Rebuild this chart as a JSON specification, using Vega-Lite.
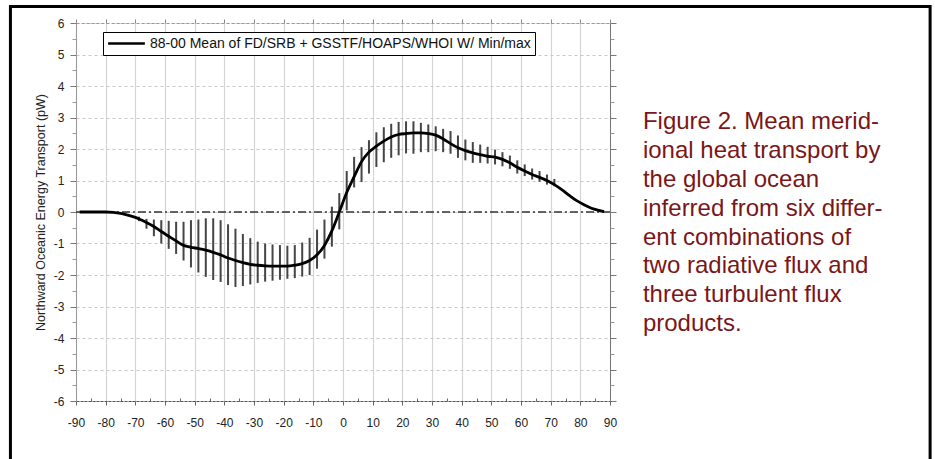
{
  "$schema": "https://vega.github.io/schema/vega-lite/v6.json",
  "width": 534,
  "height": 378,
  "autosize": {"type": "none"},
  "padding": {"left": 76, "top": 23, "right": 325, "bottom": 58},
  "background": "white",
  "config": {
    "view": {"stroke": null},
    "font": "Liberation Sans",
    "axis": {"labelFont": "Liberation Sans", "titleFont": "Liberation Sans"}
  },
  "datasets": {
    "bars": [
      {"lat": -68.75, "lo": -0.29, "hi": -0.15},
      {"lat": -66.25, "lo": -0.53, "hi": -0.22},
      {"lat": -63.75, "lo": -0.77, "hi": -0.24},
      {"lat": -61.25, "lo": -1.0, "hi": -0.26},
      {"lat": -58.75, "lo": -1.17, "hi": -0.28},
      {"lat": -56.25, "lo": -1.33, "hi": -0.31},
      {"lat": -53.75, "lo": -1.54, "hi": -0.31},
      {"lat": -51.25, "lo": -1.76, "hi": -0.26},
      {"lat": -48.75, "lo": -1.92, "hi": -0.24},
      {"lat": -46.25, "lo": -2.06, "hi": -0.2},
      {"lat": -43.75, "lo": -2.16, "hi": -0.2},
      {"lat": -41.25, "lo": -2.22, "hi": -0.26},
      {"lat": -38.75, "lo": -2.32, "hi": -0.39},
      {"lat": -36.25, "lo": -2.38, "hi": -0.53},
      {"lat": -33.75, "lo": -2.35, "hi": -0.7},
      {"lat": -31.25, "lo": -2.3, "hi": -0.83},
      {"lat": -28.75, "lo": -2.25, "hi": -0.94},
      {"lat": -26.25, "lo": -2.21, "hi": -1.0},
      {"lat": -23.75, "lo": -2.18, "hi": -1.03},
      {"lat": -21.25, "lo": -2.15, "hi": -1.05},
      {"lat": -18.75, "lo": -2.12, "hi": -1.07},
      {"lat": -16.25, "lo": -2.1, "hi": -1.05},
      {"lat": -13.75, "lo": -2.05, "hi": -0.97},
      {"lat": -11.25, "lo": -2.0, "hi": -0.82},
      {"lat": -8.75, "lo": -1.8, "hi": -0.56},
      {"lat": -6.25, "lo": -1.48, "hi": -0.24},
      {"lat": -3.75, "lo": -1.1, "hi": 0.17},
      {"lat": -1.25, "lo": -0.55, "hi": 0.6},
      {"lat": 1.25, "lo": 0.05, "hi": 1.3},
      {"lat": 3.75, "lo": 0.78, "hi": 1.75},
      {"lat": 6.25, "lo": 0.95, "hi": 2.06},
      {"lat": 8.75, "lo": 1.22, "hi": 2.28},
      {"lat": 11.25, "lo": 1.43, "hi": 2.53},
      {"lat": 13.75, "lo": 1.58, "hi": 2.69},
      {"lat": 16.25, "lo": 1.72, "hi": 2.8},
      {"lat": 18.75, "lo": 1.8, "hi": 2.86},
      {"lat": 21.25, "lo": 1.86, "hi": 2.88},
      {"lat": 23.75, "lo": 1.85, "hi": 2.88},
      {"lat": 26.25, "lo": 1.9, "hi": 2.83},
      {"lat": 28.75, "lo": 1.9, "hi": 2.78},
      {"lat": 31.25, "lo": 1.93, "hi": 2.72},
      {"lat": 33.75, "lo": 1.9, "hi": 2.64},
      {"lat": 36.25, "lo": 1.85, "hi": 2.57},
      {"lat": 38.75, "lo": 1.72, "hi": 2.43},
      {"lat": 41.25, "lo": 1.64, "hi": 2.3},
      {"lat": 43.75, "lo": 1.56, "hi": 2.22},
      {"lat": 46.25, "lo": 1.56, "hi": 2.14},
      {"lat": 48.75, "lo": 1.54, "hi": 2.07},
      {"lat": 51.25, "lo": 1.51, "hi": 1.98},
      {"lat": 53.75, "lo": 1.45, "hi": 1.9},
      {"lat": 56.25, "lo": 1.37, "hi": 1.79},
      {"lat": 58.75, "lo": 1.22, "hi": 1.64},
      {"lat": 61.25, "lo": 1.14, "hi": 1.51},
      {"lat": 63.75, "lo": 1.03, "hi": 1.38},
      {"lat": 66.25, "lo": 0.96, "hi": 1.3},
      {"lat": 68.75, "lo": 0.87, "hi": 1.19},
      {"lat": 71.25, "lo": 0.82, "hi": 1.05}
    ],
    "curve": [
      {"lat": -88.75, "mean": 0}, {"lat": -85, "mean": 0}, {"lat": -80, "mean": 0},
      {"lat": -77.5, "mean": -0.01}, {"lat": -75, "mean": -0.04}, {"lat": -72.5, "mean": -0.1},
      {"lat": -70, "mean": -0.17}, {"lat": -68.75, "mean": -0.22}, {"lat": -66.25, "mean": -0.33},
      {"lat": -63.75, "mean": -0.46}, {"lat": -61.25, "mean": -0.62}, {"lat": -58.75, "mean": -0.77},
      {"lat": -56.25, "mean": -0.92}, {"lat": -53.75, "mean": -1.06}, {"lat": -51.25, "mean": -1.12},
      {"lat": -48.75, "mean": -1.16}, {"lat": -46.25, "mean": -1.21}, {"lat": -43.75, "mean": -1.28},
      {"lat": -41.25, "mean": -1.36}, {"lat": -38.75, "mean": -1.46}, {"lat": -36.25, "mean": -1.54},
      {"lat": -33.75, "mean": -1.61}, {"lat": -31.25, "mean": -1.66}, {"lat": -28.75, "mean": -1.69},
      {"lat": -26.25, "mean": -1.71}, {"lat": -23.75, "mean": -1.72}, {"lat": -21.25, "mean": -1.72},
      {"lat": -18.75, "mean": -1.72}, {"lat": -16.25, "mean": -1.69}, {"lat": -13.75, "mean": -1.64},
      {"lat": -11.25, "mean": -1.54}, {"lat": -8.75, "mean": -1.36}, {"lat": -6.25, "mean": -1.06},
      {"lat": -3.75, "mean": -0.6}, {"lat": -1.25, "mean": 0.0}, {"lat": 1.25, "mean": 0.62},
      {"lat": 3.75, "mean": 1.12}, {"lat": 6.25, "mean": 1.6}, {"lat": 8.75, "mean": 1.9},
      {"lat": 11.25, "mean": 2.09}, {"lat": 13.75, "mean": 2.25}, {"lat": 16.25, "mean": 2.38},
      {"lat": 18.75, "mean": 2.46}, {"lat": 21.25, "mean": 2.49}, {"lat": 23.75, "mean": 2.51},
      {"lat": 26.25, "mean": 2.51}, {"lat": 28.75, "mean": 2.49}, {"lat": 31.25, "mean": 2.44},
      {"lat": 33.75, "mean": 2.32}, {"lat": 36.25, "mean": 2.17}, {"lat": 38.75, "mean": 2.04},
      {"lat": 41.25, "mean": 1.95}, {"lat": 43.75, "mean": 1.88}, {"lat": 46.25, "mean": 1.82},
      {"lat": 48.75, "mean": 1.77}, {"lat": 51.25, "mean": 1.74}, {"lat": 53.75, "mean": 1.67},
      {"lat": 56.25, "mean": 1.56}, {"lat": 58.75, "mean": 1.42}, {"lat": 61.25, "mean": 1.3},
      {"lat": 63.75, "mean": 1.19}, {"lat": 66.25, "mean": 1.1}, {"lat": 68.75, "mean": 1.0},
      {"lat": 71.25, "mean": 0.87}, {"lat": 73.75, "mean": 0.71}, {"lat": 76.25, "mean": 0.53},
      {"lat": 78.75, "mean": 0.36}, {"lat": 81.25, "mean": 0.23}, {"lat": 83.75, "mean": 0.12},
      {"lat": 86.25, "mean": 0.05}, {"lat": 88, "mean": 0.01}
    ]
  },
  "resolve": {"axis": {"x": "independent", "y": "independent"}},
  "layer": [
    {
      "data": {"name": "bars"},
      "mark": {"type": "rule", "color": "#454545", "strokeWidth": 2},
      "encoding": {
        "x": {
          "field": "lat", "type": "quantitative",
          "scale": {"domain": [-90, 90], "nice": false, "zero": false},
          "axis": {
            "orient": "bottom", "title": null,
            "values": [-90, -80, -70, -60, -50, -40, -30, -20, -10, 0, 10, 20, 30, 40, 50, 60, 70, 80, 90],
            "labelExpr": "'' + datum.value", "labelOverlap": false, "labelFlush": false,
            "labelFontSize": 12, "labelColor": "#222", "labelPadding": 12,
            "tickSize": 4, "tickColor": "#666",
            "grid": true, "gridColor": "#d4d4d4", "gridWidth": 1.2,
            "domainColor": "#555", "domainDash": [3, 1]
          }
        },
        "y": {
          "field": "lo", "type": "quantitative",
          "scale": {"domain": [-6, 6], "nice": false},
          "axis": {
            "orient": "left",
            "title": "Northward Oceanic Energy Transport (pW)",
            "titleFontSize": 12.5, "titleFontWeight": "normal", "titleColor": "#222", "titlePadding": 6,
            "values": [-6, -5, -4, -3, -2, -1, 0, 1, 2, 3, 4, 5, 6],
            "labelExpr": "'' + datum.value", "labelOverlap": false, "labelFlush": false,
            "labelFontSize": 12, "labelColor": "#222", "labelPadding": 6,
            "tickSize": 6, "tickColor": "#777",
            "grid": true, "gridColor": "#c8c8c8", "gridDash": [3, 3], "gridWidth": 1,
            "domainColor": "#999"
          }
        },
        "y2": {"field": "hi"}
      }
    },
    {
      "data": {"values": [{}]},
      "mark": {"type": "rule", "color": "#333", "strokeWidth": 1.3, "strokeDash": [8, 3, 2, 3]},
      "encoding": {
        "y": {"datum": 0, "type": "quantitative", "scale": {"domain": [-6, 6], "nice": false}, "axis": null}
      }
    },
    {
      "data": {"name": "curve"},
      "mark": {"type": "line", "strokeWidth": 2.8, "interpolate": "monotone"},
      "encoding": {
        "x": {
          "field": "lat", "type": "quantitative",
          "scale": {"domain": [-90, 90], "nice": false, "zero": false},
          "axis": {
            "orient": "top", "title": null, "labels": false,
            "values": [-90, -80, -70, -60, -50, -40, -30, -20, -10, 0, 10, 20, 30, 40, 50, 60, 70, 80, 90],
            "tickSize": 4, "tickColor": "#888", "grid": false,
            "domainColor": "#999", "domainDash": [3, 2]
          }
        },
        "y": {
          "field": "mean", "type": "quantitative",
          "scale": {"domain": [-6, 6], "nice": false},
          "axis": {
            "orient": "right", "title": null, "labels": false,
            "values": [-6, -5, -4, -3, -2, -1, 0, 1, 2, 3, 4, 5, 6],
            "tickSize": 6, "tickColor": "#777", "grid": false, "domainColor": "#777"
          }
        },
        "color": {
          "datum": "88-00 Mean of FD/SRB + GSSTF/HOAPS/WHOI W/ Min/max",
          "type": "nominal",
          "scale": {"range": ["black"]},
          "legend": {
            "orient": "none", "legendX": 27, "legendY": 9, "title": null,
            "symbolType": "M-3,0H3", "symbolSize": 150, "symbolStrokeWidth": 2.5, "symbolOffset": 12,
            "labelFontSize": 14, "labelColor": "#111", "labelLimit": 600, "labelOffset": 16,
            "strokeColor": "black", "fillColor": "white", "padding": 4, "cornerRadius": 0
          }
        }
      }
    },
    {
      "data": {"values": [{}]},
      "mark": {"type": "rect", "filled": false, "stroke": "black", "strokeWidth": 3, "clip": false},
      "encoding": {
        "x": {
          "datum": -112.1, "type": "quantitative",
          "scale": {"domain": [-90, 90], "nice": false, "zero": false},
          "axis": {
            "orient": "bottom", "title": null, "labels": false, "domain": false, "grid": false,
            "values": [-85, -75, -65, -55, -45, -35, -25, -15, -5, 5, 15, 25, 35, 45, 55, 65, 75, 85],
            "tickSize": -3, "tickColor": "#666"
          }
        },
        "x2": {"datum": 197.9},
        "y": {
          "datum": 6.52, "type": "quantitative",
          "scale": {"domain": [-6, 6], "nice": false},
          "axis": {
            "orient": "left", "title": null, "labels": false, "domain": false, "grid": false,
            "values": [-5.5, -4.5, -3.5, -2.5, -1.5, -0.5, 0.5, 1.5, 2.5, 3.5, 4.5, 5.5],
            "tickSize": 4, "tickColor": "#999"
          }
        },
        "y2": {"datum": -8.2}
      }
    },
    {
      "data": {"values": [{}]},
      "mark": {"type": "text", "clip": false, "align": "left", "baseline": "alphabetic", "fontSize": 24, "lineHeight": 28.8, "color": "#7b1618", "font": "Liberation Sans"},
      "encoding": {
        "x": {
          "datum": 101.1, "type": "quantitative",
          "scale": {"domain": [-90, 90], "nice": false, "zero": false},
          "axis": null
        },
        "y": {
          "datum": 2.62, "type": "quantitative",
          "scale": {"domain": [-6, 6], "nice": false},
          "axis": {
            "orient": "right", "title": null, "labels": false, "domain": false, "grid": false,
            "values": [-5.5, -4.5, -3.5, -2.5, -1.5, -0.5, 0.5, 1.5, 2.5, 3.5, 4.5, 5.5],
            "tickSize": 4, "tickColor": "#999"
          }
        },
        "text": {"value": ["Figure 2. Mean merid-", "ional heat transport by", "the global ocean", "inferred from six differ-", "ent combinations of", "two radiative flux and", "three turbulent flux", "products."]}
      }
    }
  ]
}
